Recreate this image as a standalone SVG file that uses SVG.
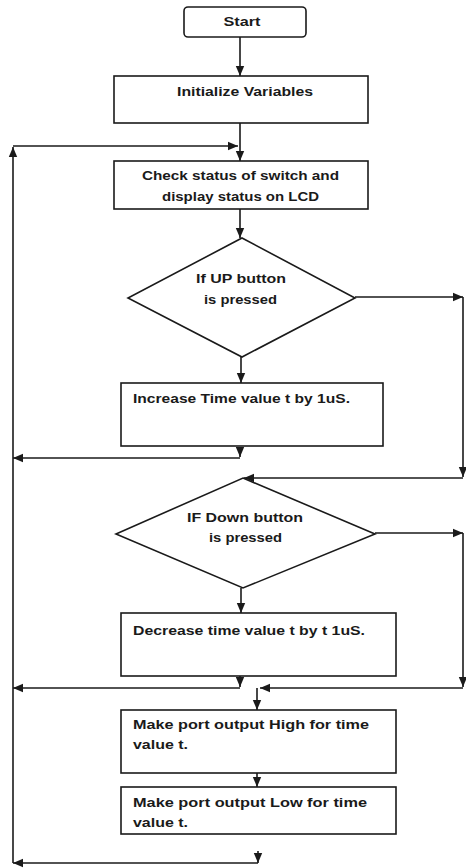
<svg xmlns="http://www.w3.org/2000/svg" width="466" height="868" viewBox="0 0 466 868">
<style>
.box{fill:#fff;stroke:#1a1a1a;stroke-width:1.6}
.ln{fill:none;stroke:#1a1a1a;stroke-width:1.6}
.t{font-family:"Liberation Sans",Arial,sans-serif;font-weight:bold;font-size:12px;fill:#1a1a1a}
.c{text-anchor:middle}
</style>
<defs>
<marker id="ah" markerUnits="userSpaceOnUse" markerWidth="10" markerHeight="10" viewBox="0 0 10 10" refX="10" refY="5" orient="auto">
<path d="M0,0.8 L10,5 L0,9.2 Z" fill="#1a1a1a"/>
</marker>
</defs>
<rect width="466" height="868" fill="#fff"/>
<g id="connectors">
<line class="ln" x1="240" y1="37" x2="240" y2="76" marker-end="url(#ah)"/>
<line class="ln" x1="240" y1="123" x2="240" y2="161" marker-end="url(#ah)"/>
<line class="ln" x1="13" y1="146" x2="238" y2="146" marker-end="url(#ah)"/>
<line class="ln" x1="240" y1="209" x2="240" y2="238" marker-end="url(#ah)"/>
<line class="ln" x1="241" y1="357" x2="241" y2="383" marker-end="url(#ah)"/>
<line class="ln" x1="355" y1="297" x2="463" y2="297" marker-end="url(#ah)"/>
<line class="ln" x1="463" y1="297" x2="463" y2="477" marker-end="url(#ah)"/>
<line class="ln" x1="463" y1="478" x2="244" y2="478" marker-end="url(#ah)"/>
<line class="ln" x1="240" y1="447" x2="240" y2="457" marker-end="url(#ah)"/>
<line class="ln" x1="240" y1="458" x2="13" y2="458" marker-end="url(#ah)"/>
<line class="ln" x1="375" y1="533" x2="463" y2="533" marker-end="url(#ah)"/>
<line class="ln" x1="463" y1="533" x2="463" y2="687" marker-end="url(#ah)"/>
<line class="ln" x1="241" y1="588" x2="241" y2="613" marker-end="url(#ah)"/>
<line class="ln" x1="240" y1="676" x2="240" y2="687" marker-end="url(#ah)"/>
<line class="ln" x1="240" y1="688" x2="13" y2="688" marker-end="url(#ah)"/>
<line class="ln" x1="463" y1="688" x2="260" y2="688" marker-end="url(#ah)"/>
<line class="ln" x1="257" y1="688" x2="257" y2="710" marker-end="url(#ah)"/>
<line class="ln" x1="257" y1="773" x2="257" y2="787" marker-end="url(#ah)"/>
<line class="ln" x1="258" y1="851" x2="258" y2="863" marker-end="url(#ah)"/>
<line class="ln" x1="258" y1="863" x2="13" y2="863" marker-end="url(#ah)"/>
<line class="ln" x1="13" y1="863" x2="13" y2="147" marker-end="url(#ah)"/>
</g>
<g id="start">
<rect class="box" x="184" y="7" width="122" height="30" rx="4"/>
<text class="t c" x="242" y="26" textLength="37" lengthAdjust="spacingAndGlyphs">Start</text>
</g>
<g id="init">
<rect class="box" x="114" y="76" width="254" height="47"/>
<text class="t c" x="245" y="96" textLength="136" lengthAdjust="spacingAndGlyphs">Initialize Variables</text>
</g>
<g id="check">
<rect class="box" x="114" y="161" width="254" height="48"/>
<text class="t c" x="240.5" y="180" textLength="197" lengthAdjust="spacingAndGlyphs">Check status of switch and</text>
<text class="t c" x="240.5" y="201" textLength="157" lengthAdjust="spacingAndGlyphs">display status on LCD</text>
</g>
<g id="up">
<polygon class="box" points="242,238 355,298 242,357 128,298"/>
<text class="t c" x="241" y="283" textLength="90" lengthAdjust="spacingAndGlyphs">If UP button</text>
<text class="t c" x="240.5" y="304" textLength="73" lengthAdjust="spacingAndGlyphs">is pressed</text>
</g>
<g id="increase">
<rect class="box" x="121" y="383" width="262" height="63"/>
<text class="t" x="133" y="403" textLength="217" lengthAdjust="spacingAndGlyphs">Increase Time value t by 1uS.</text>
</g>
<g id="down">
<polygon class="box" points="243,478 375,534 243,588 116,534"/>
<text class="t c" x="245" y="522" textLength="116" lengthAdjust="spacingAndGlyphs">IF Down button</text>
<text class="t c" x="245.5" y="542" textLength="73" lengthAdjust="spacingAndGlyphs">is pressed</text>
</g>
<g id="decrease">
<rect class="box" x="121" y="613" width="275" height="63"/>
<text class="t" x="133" y="635" textLength="232" lengthAdjust="spacingAndGlyphs">Decrease time value t by t 1uS.</text>
</g>
<g id="high">
<rect class="box" x="121" y="710" width="275" height="63"/>
<text class="t" x="133" y="729" textLength="236" lengthAdjust="spacingAndGlyphs">Make port output High for time</text>
<text class="t" x="133" y="749" textLength="55" lengthAdjust="spacingAndGlyphs">value t.</text>
</g>
<g id="low">
<rect class="box" x="121" y="787" width="275" height="47"/>
<text class="t" x="133" y="807" textLength="234" lengthAdjust="spacingAndGlyphs">Make port output Low for time</text>
<text class="t" x="133" y="827" textLength="55" lengthAdjust="spacingAndGlyphs">value t.</text>
</g>
</svg>
